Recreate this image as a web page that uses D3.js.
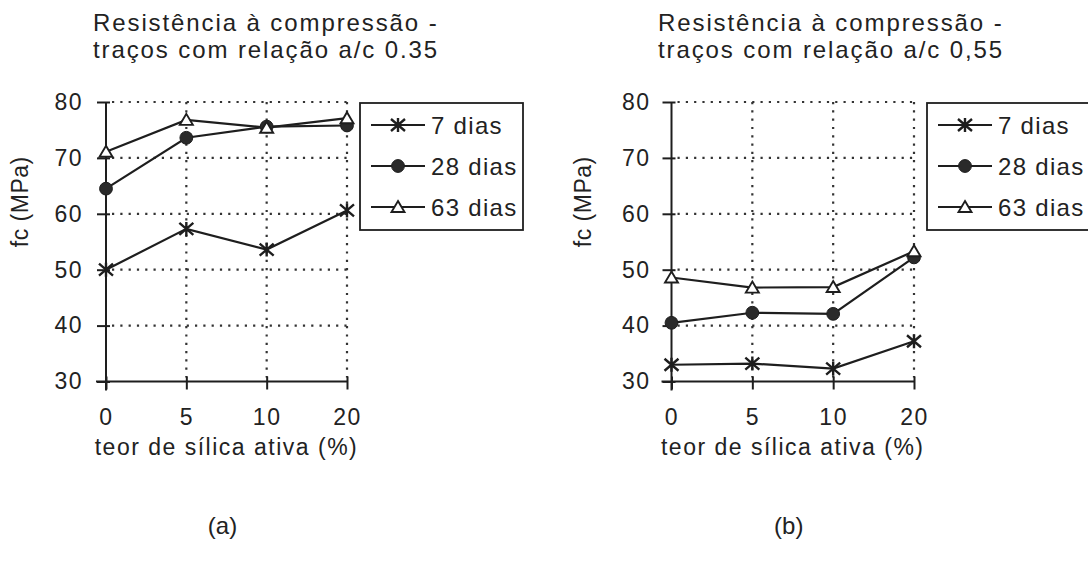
<!DOCTYPE html>
<html>
<head>
<meta charset="utf-8">
<script src="https://cdn.jsdelivr.net/npm/d3@7"></script>
<style>
  html, body { margin: 0; padding: 0; background: #fff; }
  svg { display: block; }
  text { font-family: "Liberation Sans", Arial, sans-serif; fill: #222; }
</style>
</head>
<body>
<svg id="chart" width="1088" height="568"></svg>
<script>
// Silica fume content (%) on the x axis, compressive strength (MPa) on y
const categories = ["0", "5", "10", "20"];
const yTicks = [30, 40, 50, 60, 70, 80];
const seriesNames = ["7 dias", "28 dias", "63 dias"];

// w/c ratio 0.35
const wc035_7d  = [50.0, 57.3, 53.6, 60.6];
const wc035_28d = [64.5, 73.6, 75.6, 75.8];
const wc035_63d = [71.1, 76.8, 75.4, 77.1];

// w/c ratio 0.55
const wc055_7d  = [33.0, 33.2, 32.3, 37.2];
const wc055_28d = [40.5, 42.3, 42.1, 52.2];
const wc055_63d = [48.6, 46.8, 46.9, 53.3];

const ink = "#1e1e1e";
const svg = d3.select("#chart");

// marker shapes
const markerPath = {
  "7 dias": "M-7,-6L7,6M-7,6L7,-6M0,-7L0,7",
  "63 dias": "M0,-6L6.5,5L-6.5,5Z"
};

function drawMarker(g, name, x, y) {
  if (name === "28 dias") {
    g.append("circle").attr("cx", x).attr("cy", y).attr("r", 6.4)
      .attr("fill", "#2a2a2a").attr("stroke", ink).attr("stroke-width", 1);
  } else if (name === "63 dias") {
    g.append("path").attr("d", markerPath[name])
      .attr("transform", `translate(${x},${y})`)
      .attr("fill", "#fff").attr("stroke", ink).attr("stroke-width", 1.9);
  } else {
    g.append("path").attr("d", markerPath[name])
      .attr("transform", `translate(${x},${y})`)
      .attr("fill", "none").attr("stroke", ink).attr("stroke-width", 2.4);
  }
}

function panel(cfg) {
  const g = svg.append("g").attr("transform", `translate(${cfg.left},${cfg.top})`);
  const x = d3.scalePoint().domain(categories).range([0, cfg.width]).padding(0);
  const y = d3.scaleLinear().domain([30, 80]).range([cfg.height, 0]);

  // dotted grid
  const grid = g.append("g").attr("stroke", "#333").attr("stroke-width", 2.2)
    .attr("stroke-dasharray", "2.2,6.1").attr("fill", "none");
  yTicks.filter(v => v > 30).forEach(v => {
    grid.append("line").attr("x1", 6).attr("x2", cfg.width)
      .attr("y1", y(v)).attr("y2", y(v));
  });
  categories.slice(1).forEach(c => {
    grid.append("line").attr("x1", x(c)).attr("x2", x(c))
      .attr("y1", y(80)).attr("y2", y(30) - 4);
  });

  // axes
  const ax = g.append("g").attr("transform", `translate(0,${cfg.height})`)
    .call(d3.axisBottom(x).tickSize(8).tickSizeOuter(0).tickPadding(19));
  ax.selectAll(".tick line").attr("y1", -5);
  ax.select(".domain").attr("d", `M-10,0H${cfg.width}`);

  const ay = g.append("g")
    .call(d3.axisLeft(y).tickValues(yTicks).tickSize(9).tickSizeOuter(0).tickPadding(cfg.ypad));
  ay.selectAll(".tick line").attr("x1", 4);
  ay.select(".domain").attr("d", `M0,0V${cfg.height + 9}`);

  [ax, ay].forEach(a => {
    a.attr("font-size", null).attr("font-family", null);
    a.selectAll("line, path").attr("stroke", ink).attr("stroke-width", 2);
    a.selectAll("text").attr("font-size", 23).attr("letter-spacing", 1.5)
      .attr("fill", "#222");
  });

  // series
  const line = d3.line().x((d, i) => x(categories[i])).y(d => y(d));
  cfg.series.forEach(vals => {
    g.append("path").datum(vals).attr("d", line)
      .attr("fill", "none").attr("stroke", ink).attr("stroke-width", 2.2);
  });
  cfg.series.forEach((vals, k) => {
    const mg = g.append("g");
    vals.forEach((v, i) => drawMarker(mg, seriesNames[k], x(categories[i]), y(v)));
  });

  // axis titles
  g.append("text").attr("x", cfg.width / 2).attr("y", cfg.height + 73)
    .attr("text-anchor", "middle").attr("font-size", 23).attr("letter-spacing", 1.5)
    .text("teor de sílica ativa (%)");
  g.append("text")
    .attr("transform", `translate(${cfg.ytitleX},${cfg.height / 2 - 40}) rotate(-90)`)
    .attr("text-anchor", "middle").attr("font-size", 23).attr("letter-spacing", 0.5)
    .text("fc (MPa)");

  // chart title
  const t = svg.append("text").attr("x", cfg.titleX).attr("y", 31)
    .attr("font-size", 24).attr("letter-spacing", 1.9);
  t.append("tspan").attr("x", cfg.titleX).text("Resistência à compressão -");
  t.append("tspan").attr("x", cfg.titleX).attr("dy", 27).text(cfg.title2);

  // legend
  const lg = svg.append("g").attr("transform", `translate(${cfg.legendX},103)`);
  lg.append("rect").attr("width", 163).attr("height", 127)
    .attr("fill", "#fff").attr("stroke", ink).attr("stroke-width", 1.8);
  seriesNames.forEach((name, k) => {
    const ry = 22 + k * 41;
    lg.append("line").attr("x1", 11).attr("x2", 65).attr("y1", ry).attr("y2", ry)
      .attr("stroke", ink).attr("stroke-width", 2.2);
    drawMarker(lg, name, 38, ry);
    lg.append("text").attr("x", 71).attr("y", ry).attr("dy", "0.36em")
      .attr("font-size", 24).attr("letter-spacing", 1.3).text(name);
  });

  // panel label
  svg.append("text").attr("x", cfg.left + cfg.width / 2 - 4).attr("y", 534)
    .attr("text-anchor", "middle").attr("font-size", 24)
    .style("font-family", "Liberation Sans Narrow, Liberation Sans, Arial, sans-serif")
    .text(cfg.label);
}

panel({
  left: 106, top: 102, width: 241, height: 279.5, ypad: 14,
  series: [wc035_7d, wc035_28d, wc035_63d],
  title2: "traços com relação a/c 0.35", titleX: 93,
  ytitleX: -78, legendX: 360, label: "(a)"
});

panel({
  left: 671.5, top: 102, width: 242.5, height: 279.5, ypad: 12,
  series: [wc055_7d, wc055_28d, wc055_63d],
  title2: "traços com relação a/c 0,55", titleX: 658,
  ytitleX: -81, legendX: 927, label: "(b)"
});
</script>
</body>
</html>
